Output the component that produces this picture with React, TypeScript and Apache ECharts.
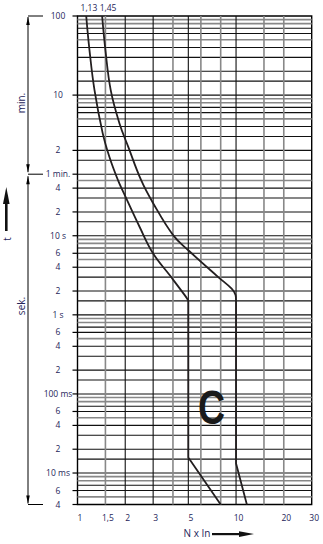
import React, { useEffect, useRef } from 'react';
import * as echarts from 'echarts';

const X_MIN = 1;
const X_MAX = 30;
const Y_MIN = 0.004; // seconds (4 ms)
const Y_MAX = 6000; // seconds (100 min)

// x axis (N x In)
const xLabelValues = [1, 1.5, 2, 3, 5, 10, 20, 30];
const xLabelTexts = ['1', '1,5', '2', '3', '5', '10', '20', '30'];
const xLinesBlack = [2, 3, 5, 10];
const xLinesGray = [1.5, 4, 6, 8, 15, 20];

// y axis (time in seconds)
const yLabelValues = [6000, 600, 120, 60, 40, 20, 10, 6, 4, 2, 1, 0.6, 0.4, 0.2, 0.1, 0.06, 0.04, 0.02, 0.01, 0.006, 0.004];
const yLabelTexts = ['100', '10', '2', '1 min.', '4', '2', '10 s', '6', '4', '2', '1 s', '6', '4', '2', '100 ms', '6', '4', '2', '10 ms', '6', '4'];
const decadeSteps = [1, 1.5, 2, 3, 4, 5, 6, 7, 8, 9];
const graySteps = [5, 8, 9];
const minuteBases = [60, 600];
const secondBases = [0.001, 0.01, 0.1, 1, 10];

// tripping curves (x = N x In, y = seconds)
const curve113Bend: [number, number][] = [
  [1.135, 6000], [1.19, 2225], [1.28, 694], [1.44, 200], [1.59, 99], [1.8, 50.4],
  [1.96, 34.5], [2.47, 12.8], [3.0, 5.95], [3.82, 3.16], [4.72, 1.8], [5.0, 1.52],
];
const curve113Tail: [number, number][] = [[5.0, 1.52], [5.0, 0.0157], [8.0, 0.004]];
const curve145Bend: [number, number][] = [
  [1.43, 6000], [1.5, 2225], [1.62, 694], [1.84, 263], [2.09, 133], [2.52, 50.4],
  [3.0, 25.8], [4.02, 10.1], [5.0, 6.55], [7.72, 3.0], [9.38, 2.14], [9.93, 1.78], [10.0, 1.52],
];
const curve145Tail: [number, number][] = [[10.0, 1.52], [10.0, 0.0132], [11.7, 0.004]];

const TEXT = '#25255a';
const FONT = '"Open Sans", "Noto Sans", sans-serif';

export default function App() {
  const ref = useRef<HTMLDivElement>(null);
  useEffect(() => {
    if (!ref.current) return;
    const chart = echarts.init(ref.current, null, { renderer: 'svg' });

    const hLines: number[][] = [];
    for (const b of minuteBases)
      for (const m of decadeSteps) {
        const v = b * m;
        if (v < Y_MAX * 0.999) hLines.push([X_MIN, v, graySteps.includes(m) ? 1 : 0]);
      }
    for (const b of secondBases)
      for (const m of decadeSteps) {
        const v = b * m;
        if (v > Y_MIN * 1.001 && v < 59.9) hLines.push([X_MIN, v, graySteps.includes(m) ? 1 : 0]);
      }
    const vLines: number[][] = [
      ...xLinesBlack.map((v) => [v, Y_MIN, 0]),
      ...xLinesGray.map((v) => [v, Y_MIN, 1]),
    ];

    const gridStyle = (gray: boolean) =>
      gray ? { stroke: '#888888', lineWidth: 1.6 } : { stroke: '#111111', lineWidth: 1.1 };

    const curveLine = { color: '#231f20', width: 1.8 };

    chart.setOption({
      animation: false,
      backgroundColor: '#fff',
      grid: { left: 77.5, right: 11.3, top: 16, bottom: 39.5, show: true, borderColor: '#000', borderWidth: 1.4, backgroundColor: 'transparent' },
      xAxis: {
        type: 'log', logBase: 10, min: X_MIN, max: X_MAX,
        axisLabel: { show: false }, axisTick: { show: false }, axisLine: { show: false }, splitLine: { show: false }, minorSplitLine: { show: false },
      },
      yAxis: {
        type: 'log', logBase: 10, min: Y_MIN, max: Y_MAX,
        axisLabel: { show: false }, axisTick: { show: false }, axisLine: { show: false }, splitLine: { show: false }, minorSplitLine: { show: false },
      },
      series: [
        {
          type: 'custom', name: 'hgrid', z: 1, silent: true, data: hLines,
          renderItem: (params: any, api: any) => {
            const v = api.value(1);
            const a = api.coord([X_MIN, v]);
            const b = api.coord([X_MAX, v]);
            return { type: 'line', shape: { x1: a[0], y1: a[1], x2: b[0], y2: b[1] }, style: gridStyle(api.value(2) === 1) };
          },
        },
        {
          type: 'custom', name: 'vgrid', z: 1, silent: true, data: vLines,
          renderItem: (params: any, api: any) => {
            const v = api.value(0);
            const a = api.coord([v, Y_MIN]);
            const b = api.coord([v, Y_MAX]);
            return { type: 'line', shape: { x1: a[0], y1: a[1], x2: b[0], y2: b[1] }, style: gridStyle(api.value(2) === 1) };
          },
        },
        {
          type: 'custom', name: 'ylabels', z: 5, silent: true, clip: false,
          data: yLabelValues.map((v) => [X_MIN, v]),
          renderItem: (params: any, api: any) => {
            const p = api.coord([X_MIN, api.value(1)]);
            return {
              type: 'group',
              children: [
                { type: 'line', shape: { x1: p[0] - 5, y1: p[1], x2: p[0], y2: p[1] }, style: { stroke: '#000', lineWidth: 1.2 } },
                {
                  type: 'text', x: p[0] - 19.5, y: p[1] - 0.5,
                  style: { text: yLabelTexts[params.dataIndex], fill: TEXT, fontSize: 8.5, fontFamily: FONT, align: 'center', verticalAlign: 'middle' },
                },
              ],
            };
          },
        },
        {
          type: 'custom', name: 'xlabels', z: 5, silent: true, clip: false,
          data: xLabelValues.map((v) => [v, Y_MIN]),
          renderItem: (params: any, api: any) => {
            const p = api.coord([api.value(0), Y_MIN]);
            return {
              type: 'text', x: p[0] + 2.5, y: p[1] + 13,
              style: { text: xLabelTexts[params.dataIndex], fill: TEXT, fontSize: 8.5, fontFamily: FONT, align: 'center', verticalAlign: 'middle' },
            };
          },
        },
        { type: 'line', name: '1,13', z: 3, data: curve113Bend, showSymbol: false, smooth: 0.4, lineStyle: curveLine },
        { type: 'line', name: '1,13 tail', z: 3, data: curve113Tail, showSymbol: false, lineStyle: curveLine },
        { type: 'line', name: '1,45', z: 3, data: curve145Bend, showSymbol: false, smooth: 0.4, lineStyle: curveLine },
        { type: 'line', name: '1,45 tail', z: 3, data: curve145Tail, showSymbol: false, lineStyle: curveLine },
      ],
    });

    const px = (x: number, y: number) => chart.convertToPixel({ gridIndex: 0 }, [x, y]) as number[];
    const yTop = px(X_MIN, Y_MAX)[1];
    const yMin = px(X_MIN, 60)[1];
    const yBot = px(X_MIN, Y_MIN)[1];
    const p113 = px(1.13, Y_MAX);
    const p145 = px(1.45, Y_MAX);
    const bx = 28;
    const thin = { stroke: '#000', lineWidth: 1 };
    const head = (tip: number, dir: number) => ({
      type: 'polygon', z: 100, shape: { points: [[bx, tip], [bx - 1.8, tip + dir * 8], [bx + 1.8, tip + dir * 8]] }, style: { fill: '#000' },
    });
    const txt = (text: string, x: number, y: number, size: number, rot = 0) => ({
      type: 'text', z: 100, x, y, rotation: rot,
      style: { text, fill: TEXT, fontSize: size, fontFamily: FONT, align: 'center', verticalAlign: 'middle' },
    });

    chart.setOption({
      graphic: [
        { type: 'line', z: 100, shape: { x1: bx, y1: yTop, x2: bx + 15, y2: yTop }, style: thin },
        { type: 'line', z: 100, shape: { x1: bx, y1: yMin, x2: bx + 15, y2: yMin }, style: thin },
        { type: 'line', z: 100, shape: { x1: bx, y1: yBot, x2: bx + 15, y2: yBot }, style: thin },
        { type: 'line', z: 100, shape: { x1: bx, y1: yTop + 1, x2: bx, y2: yMin - 2 }, style: thin },
        { type: 'line', z: 100, shape: { x1: bx, y1: yMin + 2, x2: bx, y2: yBot - 1 }, style: thin },
        head(yTop + 1, 1), head(yMin - 2, -1), head(yMin + 2, 1), head(yBot - 1, -1),
        txt('min.', 20.5, (yTop + yMin) / 2 + 8, 10, Math.PI / 2),
        txt('sek.', 20.5, 306, 10, Math.PI / 2),
        txt('t', 6.5, 239, 10, Math.PI / 2),
        { type: 'rect', z: 100, shape: { x: 5, y: 200, width: 2.6, height: 31 }, style: { fill: '#111' } },
        { type: 'polygon', z: 100, shape: { points: [[6.3, 187], [3, 204], [9.6, 204]] }, style: { fill: '#111' } },
        txt('1,13', p113[0] + 3, yTop - 9, 8.5),
        txt('1,45', p145[0] + 5, yTop - 9, 8.5),
        txt('N x In', 197, 533, 10),
        { type: 'rect', z: 100, shape: { x: 212, y: 533, width: 30, height: 2.2 }, style: { fill: '#111' } },
        { type: 'polygon', z: 100, shape: { points: [[239, 531.3], [254, 534.1], [239, 536.9]] }, style: { fill: '#111' } },
        {
          type: 'text', z: 100, x: 211.5, y: 407, scaleX: 0.78,
          style: { text: 'C', fill: '#1a1a1a', fontSize: 48, fontWeight: 'bold', fontFamily: '"Liberation Sans", Arial, sans-serif', align: 'center', verticalAlign: 'middle' },
        },
      ],
    });

    return () => chart.dispose();
  }, []);
  return <div ref={ref} style={{ position: 'absolute', left: 0, top: 0, width: 323, height: 544, background: '#fff' }} />;
}
